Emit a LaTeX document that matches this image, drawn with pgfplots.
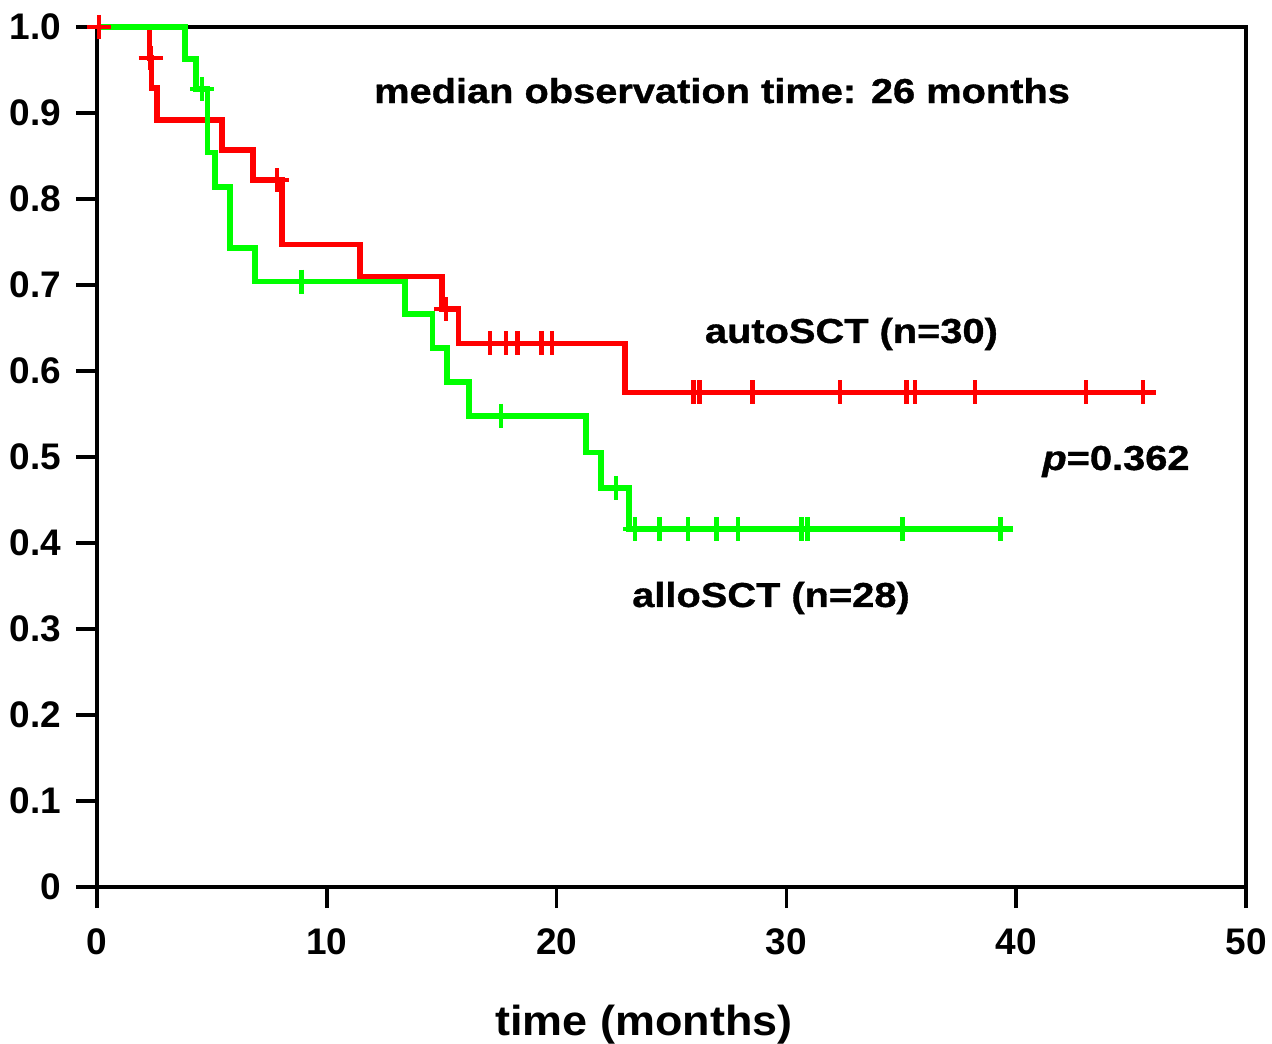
\documentclass[border=0pt]{standalone}
\usepackage{fontspec}
\setmainfont{Liberation Sans}
\newfontfamily\widefont{Liberation Sans}[FakeStretch=1.15,FakeBold=1]
\newfontfamily\labfont{Liberation Sans}[FakeStretch=1.07]
\usepackage{pgfplots}
\pgfplotsset{compat=1.18}
\definecolor{kmred}{RGB}{255,0,0}
\definecolor{kmgreen}{RGB}{0,255,0}
\begin{document}
\begin{tikzpicture}
\begin{axis}[name=ax, scale only axis, width=574.5pt, height=430pt,
  xmin=0, xmax=50, ymin=0, ymax=1, clip=false,
  axis line style={line width=2.4pt, black},
  tick pos=left, tick align=outside,
  major tick length=10.5pt,
  tick style={line width=1.8pt, black},
  xtick={0,10,20,30,40,50}, xticklabels={0,10,20,30,40,50},
  ytick={0,0.1,0.2,0.3,0.4,0.5,0.6,0.7,0.8,0.9,1.0},
  yticklabels={0,0.1,0.2,0.3,0.4,0.5,0.6,0.7,0.8,0.9,1.0},
  ticklabel style={font=\bfseries\fontsize{18.5}{20}\selectfont},
  xticklabel style={yshift=-7pt},
  yticklabel style={xshift=-4pt},
  xlabel={time (months)},
  xlabel style={font=\labfont\bfseries\fontsize{21}{24}\selectfont, at={(axis description cs:0.476,0)}, anchor=base, yshift=-74pt},
]
\addplot[kmred, line width=2.8pt, const plot, mark=none] coordinates {
(0,1.0) (2.28,0.964) (2.38,0.929) (2.6,0.892) (5.43,0.857) (6.8,0.822) (8.04,0.747) (11.45,0.710) (15.0,0.672) (15.73,0.632) (22.98,0.575) (46.08,0.575)
};
\addplot[kmgreen, line width=2.8pt, const plot, mark=none] coordinates {
(0,1.0) (3.83,0.963) (4.31,0.928) (4.8,0.854) (5.13,0.814) (5.79,0.743) (6.88,0.704) (13.4,0.666) (14.6,0.627) (15.22,0.587) (16.2,0.548) (21.28,0.505) (21.92,0.464) (23.16,0.416) (39.84,0.416)
};
\addplot[only marks, kmgreen, mark=+, mark size=6pt, mark options={line width=2.2pt}] coordinates {
(4.58,0.928) (8.9,0.704) (17.58,0.548) (22.59,0.464) (23.41,0.416) (24.47,0.416) (25.73,0.416) (26.96,0.416) (27.9,0.416) (30.66,0.416) (30.92,0.416) (35.06,0.416) (39.32,0.416)
};
\addplot[only marks, kmred, mark=+, mark size=6pt, mark options={line width=2.2pt}] coordinates {
(0.1,1.0) (2.33,0.964) (7.82,0.822) (15.19,0.672) (17.1,0.632) (17.8,0.632) (18.29,0.632) (19.35,0.632) (19.79,0.632) (25.95,0.575) (26.21,0.575) (28.53,0.575) (32.33,0.575) (35.23,0.575) (35.6,0.575) (38.2,0.575) (43.04,0.575) (45.53,0.575)
};
\node[font=\widefont\bfseries\fontsize{17.3}{20}\selectfont, anchor=base] at (axis cs:27.2,0.9116) {median observation time: 26 months};
\node[font=\widefont\bfseries\fontsize{17.3}{20}\selectfont, anchor=base] at (axis cs:32.83,0.6326) {autoSCT (n=30)};
\node[font=\widefont\bfseries\fontsize{17.3}{20}\selectfont, anchor=base] at (axis cs:29.33,0.3256) {alloSCT (n=28)};
\node[font=\widefont\bfseries\fontsize{17.3}{20}\selectfont, anchor=base] at (axis cs:44.34,0.4849) {{\itshape p}=0.362};
\end{axis}
\pgfresetboundingbox
\path[use as bounding box] ([xshift=-48.5pt,yshift=-78pt]ax.south west) rectangle ([xshift=13pt,yshift=13.5pt]ax.north east);
\end{tikzpicture}
\end{document}
